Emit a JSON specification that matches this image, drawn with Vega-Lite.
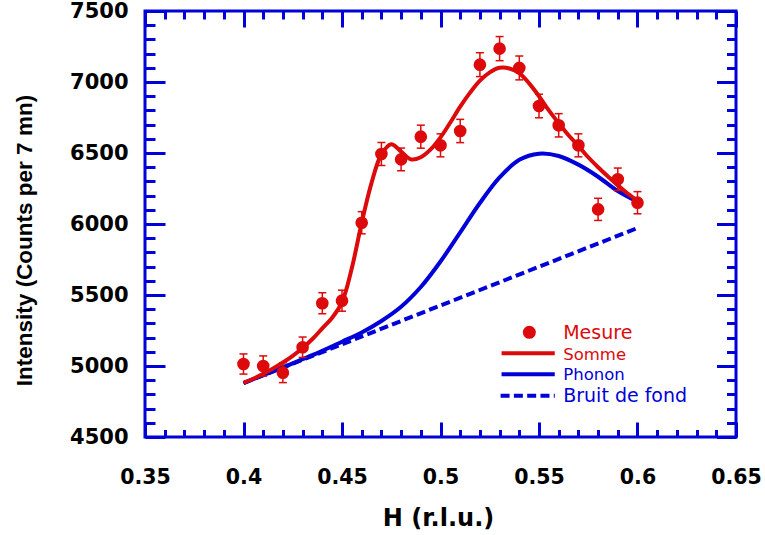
{
  "$schema": "https://vega.github.io/schema/vega-lite/v6.json",
  "width": 591,
  "height": 426,
  "autosize": {"type": "none"},
  "padding": {"left": 145, "top": 11, "right": 29, "bottom": 98},
  "background": "white",
  "config": {
    "view": {"stroke": "#0000d8", "strokeWidth": 3},
    "axis": {"domain": false, "grid": false, "tickColor": "#0000d8", "tickWidth": 3, "labelColor": "black", "titleColor": "black"}
  },
  "datasets": {
    "meas": [
      {"H": 0.40, "I": 5014, "lo": 4943, "hi": 5085},
      {"H": 0.41, "I": 5000, "lo": 4929, "hi": 5071},
      {"H": 0.42, "I": 4953, "lo": 4883, "hi": 5023},
      {"H": 0.43, "I": 5132, "lo": 5060, "hi": 5204},
      {"H": 0.44, "I": 5442, "lo": 5368, "hi": 5516},
      {"H": 0.45, "I": 5460, "lo": 5386, "hi": 5534},
      {"H": 0.46, "I": 6009, "lo": 5931, "hi": 6087},
      {"H": 0.47, "I": 6493, "lo": 6412, "hi": 6574},
      {"H": 0.48, "I": 6455, "lo": 6375, "hi": 6535},
      {"H": 0.49, "I": 6615, "lo": 6534, "hi": 6696},
      {"H": 0.50, "I": 6554, "lo": 6473, "hi": 6635},
      {"H": 0.51, "I": 6655, "lo": 6573, "hi": 6737},
      {"H": 0.52, "I": 7122, "lo": 7038, "hi": 7206},
      {"H": 0.53, "I": 7235, "lo": 7150, "hi": 7320},
      {"H": 0.54, "I": 7099, "lo": 7015, "hi": 7183},
      {"H": 0.55, "I": 6831, "lo": 6748, "hi": 6914},
      {"H": 0.56, "I": 6695, "lo": 6613, "hi": 6777},
      {"H": 0.57, "I": 6554, "lo": 6473, "hi": 6635},
      {"H": 0.58, "I": 6103, "lo": 6025, "hi": 6181},
      {"H": 0.59, "I": 6315, "lo": 6236, "hi": 6394},
      {"H": 0.60, "I": 6150, "lo": 6072, "hi": 6228}
    ],
    "sum": [
      {"H": 0.400, "I": 4882},
      {"H": 0.405, "I": 4910},
      {"H": 0.410, "I": 4945},
      {"H": 0.415, "I": 4983},
      {"H": 0.420, "I": 5025},
      {"H": 0.425, "I": 5072},
      {"H": 0.430, "I": 5127},
      {"H": 0.435, "I": 5190},
      {"H": 0.440, "I": 5265},
      {"H": 0.445, "I": 5340},
      {"H": 0.450, "I": 5450},
      {"H": 0.455, "I": 5690},
      {"H": 0.460, "I": 6009},
      {"H": 0.465, "I": 6290},
      {"H": 0.470, "I": 6490},
      {"H": 0.475, "I": 6562},
      {"H": 0.480, "I": 6510},
      {"H": 0.485, "I": 6455},
      {"H": 0.490, "I": 6470},
      {"H": 0.495, "I": 6525},
      {"H": 0.500, "I": 6610},
      {"H": 0.505, "I": 6715},
      {"H": 0.510, "I": 6826},
      {"H": 0.515, "I": 6925},
      {"H": 0.520, "I": 7010},
      {"H": 0.525, "I": 7068},
      {"H": 0.530, "I": 7100},
      {"H": 0.535, "I": 7095},
      {"H": 0.540, "I": 7063},
      {"H": 0.545, "I": 6990},
      {"H": 0.550, "I": 6900},
      {"H": 0.555, "I": 6800},
      {"H": 0.560, "I": 6710},
      {"H": 0.565, "I": 6625},
      {"H": 0.570, "I": 6550},
      {"H": 0.575, "I": 6470},
      {"H": 0.580, "I": 6400},
      {"H": 0.585, "I": 6335},
      {"H": 0.590, "I": 6272},
      {"H": 0.595, "I": 6215},
      {"H": 0.600, "I": 6165}
    ],
    "phonon": [
      {"H": 0.40, "I": 4880},
      {"H": 0.41, "I": 4935},
      {"H": 0.42, "I": 4990},
      {"H": 0.43, "I": 5048},
      {"H": 0.44, "I": 5107},
      {"H": 0.45, "I": 5171},
      {"H": 0.46, "I": 5236},
      {"H": 0.47, "I": 5317},
      {"H": 0.48, "I": 5417},
      {"H": 0.49, "I": 5556},
      {"H": 0.50, "I": 5736},
      {"H": 0.51, "I": 5941},
      {"H": 0.52, "I": 6148},
      {"H": 0.53, "I": 6328},
      {"H": 0.54, "I": 6452},
      {"H": 0.55, "I": 6495},
      {"H": 0.56, "I": 6479},
      {"H": 0.57, "I": 6418},
      {"H": 0.58, "I": 6333},
      {"H": 0.59, "I": 6232},
      {"H": 0.60, "I": 6157}
    ],
    "bg": [
      {"H": 0.40, "I": 4880},
      {"H": 0.60, "I": 5972}
    ],
    "legsum": [{"H": 0.531, "H2": 0.558, "I": 5089}],
    "legphon": [{"H": 0.531, "H2": 0.558, "I": 4942}],
    "legbg": [{"H": 0.5305, "H2": 0.558, "I": 4791}],
    "legpt": [{"H": 0.5451, "I": 5237}],
    "legbig": [
      {"H": 0.5623, "I": 5190, "label": "Mesure"},
      {"H": 0.5623, "I": 4744, "label": "Bruit de fond"}
    ],
    "legsmall": [
      {"H": 0.5623, "I": 5042, "label": "Somme"},
      {"H": 0.5623, "I": 4899, "label": "Phonon"}
    ]
  },
  "resolve": {"axis": {"x": "independent", "y": "independent"}},
  "layer": [
    {
      "data": {"name": "bg"},
      "mark": {"type": "line", "color": "#0000d8", "strokeWidth": 4, "strokeDash": [9, 4.3]},
      "encoding": {
        "x": {"field": "H", "type": "quantitative", "scale": {"domain": [0.35, 0.65], "nice": false, "zero": false},
          "axis": {"orient": "bottom", "values": [0.35, 0.4, 0.45, 0.5, 0.55, 0.6, 0.65], "format": "~g", "tickSize": -15, "labelPadding": 45,
            "labelFont": "DejaVu Sans", "labelFontWeight": "bold", "labelFontSize": 20.5, "labelFlush": false, "labelOverlap": false,
            "title": "H (r.l.u.)", "titleFont": "DejaVu Sans", "titleFontWeight": "bold", "titleFontSize": 24, "titleX": 293, "titleY": 88,
            "titleBaseline": "alphabetic", "titleAlign": "center"}},
        "y": {"field": "I", "type": "quantitative", "scale": {"domain": [4500, 7500], "nice": false, "zero": false},
          "axis": {"orient": "left", "values": [4500, 5000, 5500, 6000, 6500, 7000, 7500], "format": "d", "tickSize": -20, "labelPadding": 37,
            "labelFont": "DejaVu Sans", "labelFontWeight": "bold", "labelFontSize": 21, "labelFlush": false, "labelOverlap": false,
            "title": "Intensity (Counts per 7 mn)", "titleFont": "Liberation Sans", "titleFontWeight": "bold", "titleFontSize": 22.5,
            "titleAngle": -90, "titleX": -114, "titleY": 229, "titleBaseline": "alphabetic", "titleAlign": "center"}}
      }
    },
    {
      "data": {"name": "phonon"},
      "mark": {"type": "line", "color": "#0000d8", "strokeWidth": 4, "interpolate": "catmull-rom"},
      "encoding": {
        "x": {"field": "H", "type": "quantitative", "scale": {"domain": [0.35, 0.65], "nice": false, "zero": false},
          "axis": {"orient": "bottom", "values": [0.36, 0.37, 0.38, 0.39, 0.41, 0.42, 0.43, 0.44, 0.46, 0.47, 0.48, 0.49, 0.51, 0.52, 0.53, 0.54, 0.56, 0.57, 0.58, 0.59, 0.61, 0.62, 0.63, 0.64],
            "tickSize": -7.5, "labels": false, "title": null}},
        "y": {"field": "I", "type": "quantitative", "scale": {"domain": [4500, 7500], "nice": false, "zero": false},
          "axis": {"orient": "left", "values": [4600, 4700, 4800, 4900, 5100, 5200, 5300, 5400, 5600, 5700, 5800, 5900, 6100, 6200, 6300, 6400, 6600, 6700, 6800, 6900, 7100, 7200, 7300, 7400],
            "tickSize": -10, "labels": false, "title": null}}
      }
    },
    {
      "data": {"name": "sum"},
      "mark": {"type": "line", "color": "#dc0a0a", "strokeWidth": 4, "interpolate": "catmull-rom"},
      "encoding": {
        "x": {"field": "H", "type": "quantitative", "scale": {"domain": [0.35, 0.65], "nice": false, "zero": false},
          "axis": {"orient": "top", "values": [0.35, 0.4, 0.45, 0.5, 0.55, 0.6, 0.65], "tickSize": -16, "labels": false, "title": null}},
        "y": {"field": "I", "type": "quantitative", "scale": {"domain": [4500, 7500], "nice": false, "zero": false},
          "axis": {"orient": "right", "values": [4500, 5000, 5500, 6000, 6500, 7000, 7500], "tickSize": -19.5, "labels": false, "title": null}}
      }
    },
    {
      "data": {"name": "meas"},
      "mark": {"type": "rule", "color": "#dc0a0a", "strokeWidth": 1.5},
      "encoding": {
        "x": {"field": "H", "type": "quantitative", "axis": null},
        "y": {"field": "lo", "type": "quantitative", "axis": null},
        "y2": {"field": "hi"}
      }
    },
    {
      "data": {"name": "meas"},
      "mark": {"type": "tick", "orient": "horizontal", "color": "#dc0a0a", "size": 8, "thickness": 1.5, "opacity": 1},
      "encoding": {
        "x": {"field": "H", "type": "quantitative", "axis": null},
        "y": {"field": "lo", "type": "quantitative", "axis": null}
      }
    },
    {
      "data": {"name": "meas"},
      "mark": {"type": "tick", "orient": "horizontal", "color": "#dc0a0a", "size": 8, "thickness": 1.5, "opacity": 1},
      "encoding": {
        "x": {"field": "H", "type": "quantitative", "axis": null},
        "y": {"field": "hi", "type": "quantitative", "axis": null}
      }
    },
    {
      "data": {"name": "meas"},
      "mark": {"type": "point", "shape": "circle", "filled": true, "size": 160, "color": "#dc0a0a", "opacity": 1},
      "encoding": {
        "x": {"field": "H", "type": "quantitative", "scale": {"domain": [0.35, 0.65], "nice": false, "zero": false},
          "axis": {"orient": "top", "values": [0.36, 0.37, 0.38, 0.39, 0.41, 0.42, 0.43, 0.44, 0.46, 0.47, 0.48, 0.49, 0.51, 0.52, 0.53, 0.54, 0.56, 0.57, 0.58, 0.59, 0.61, 0.62, 0.63, 0.64],
            "tickSize": -8, "labels": false, "title": null}},
        "y": {"field": "I", "type": "quantitative", "scale": {"domain": [4500, 7500], "nice": false, "zero": false},
          "axis": {"orient": "right", "values": [4600, 4700, 4800, 4900, 5100, 5200, 5300, 5400, 5600, 5700, 5800, 5900, 6100, 6200, 6300, 6400, 6600, 6700, 6800, 6900, 7100, 7200, 7300, 7400],
            "tickSize": -9.5, "labels": false, "title": null}}
      }
    },
    {
      "data": {"name": "legsum"},
      "mark": {"type": "rule", "color": "#dc0a0a", "strokeWidth": 4},
      "encoding": {
        "x": {"field": "H", "type": "quantitative", "axis": null},
        "x2": {"field": "H2"},
        "y": {"field": "I", "type": "quantitative", "axis": null}
      }
    },
    {
      "data": {"name": "legphon"},
      "mark": {"type": "rule", "color": "#0000d8", "strokeWidth": 4},
      "encoding": {
        "x": {"field": "H", "type": "quantitative", "axis": null},
        "x2": {"field": "H2"},
        "y": {"field": "I", "type": "quantitative", "axis": null}
      }
    },
    {
      "data": {"name": "legbg"},
      "mark": {"type": "rule", "color": "#0000d8", "strokeWidth": 4, "strokeDash": [9, 4.3]},
      "encoding": {
        "x": {"field": "H", "type": "quantitative", "axis": null},
        "x2": {"field": "H2"},
        "y": {"field": "I", "type": "quantitative", "axis": null}
      }
    },
    {
      "data": {"name": "legpt"},
      "mark": {"type": "point", "shape": "circle", "filled": true, "size": 170, "color": "#dc0a0a", "opacity": 1},
      "encoding": {
        "x": {"field": "H", "type": "quantitative", "axis": null},
        "y": {"field": "I", "type": "quantitative", "axis": null}
      }
    },
    {
      "data": {"name": "legbig"},
      "mark": {"type": "text", "align": "left", "baseline": "alphabetic", "font": "DejaVu Sans", "fontSize": 19},
      "encoding": {
        "x": {"field": "H", "type": "quantitative", "axis": null},
        "y": {"field": "I", "type": "quantitative", "axis": null},
        "text": {"field": "label"},
        "color": {"field": "label", "type": "nominal", "legend": null,
          "scale": {"domain": ["Mesure", "Somme", "Phonon", "Bruit de fond"], "range": ["#dc0a0a", "#dc0a0a", "#0000d8", "#0000d8"]}}
      }
    },
    {
      "data": {"name": "legsmall"},
      "mark": {"type": "text", "align": "left", "baseline": "alphabetic", "font": "DejaVu Sans", "fontSize": 16.5},
      "encoding": {
        "x": {"field": "H", "type": "quantitative", "axis": null},
        "y": {"field": "I", "type": "quantitative", "axis": null},
        "text": {"field": "label"},
        "color": {"field": "label", "type": "nominal", "legend": null,
          "scale": {"domain": ["Mesure", "Somme", "Phonon", "Bruit de fond"], "range": ["#dc0a0a", "#dc0a0a", "#0000d8", "#0000d8"]}}
      }
    }
  ]
}
